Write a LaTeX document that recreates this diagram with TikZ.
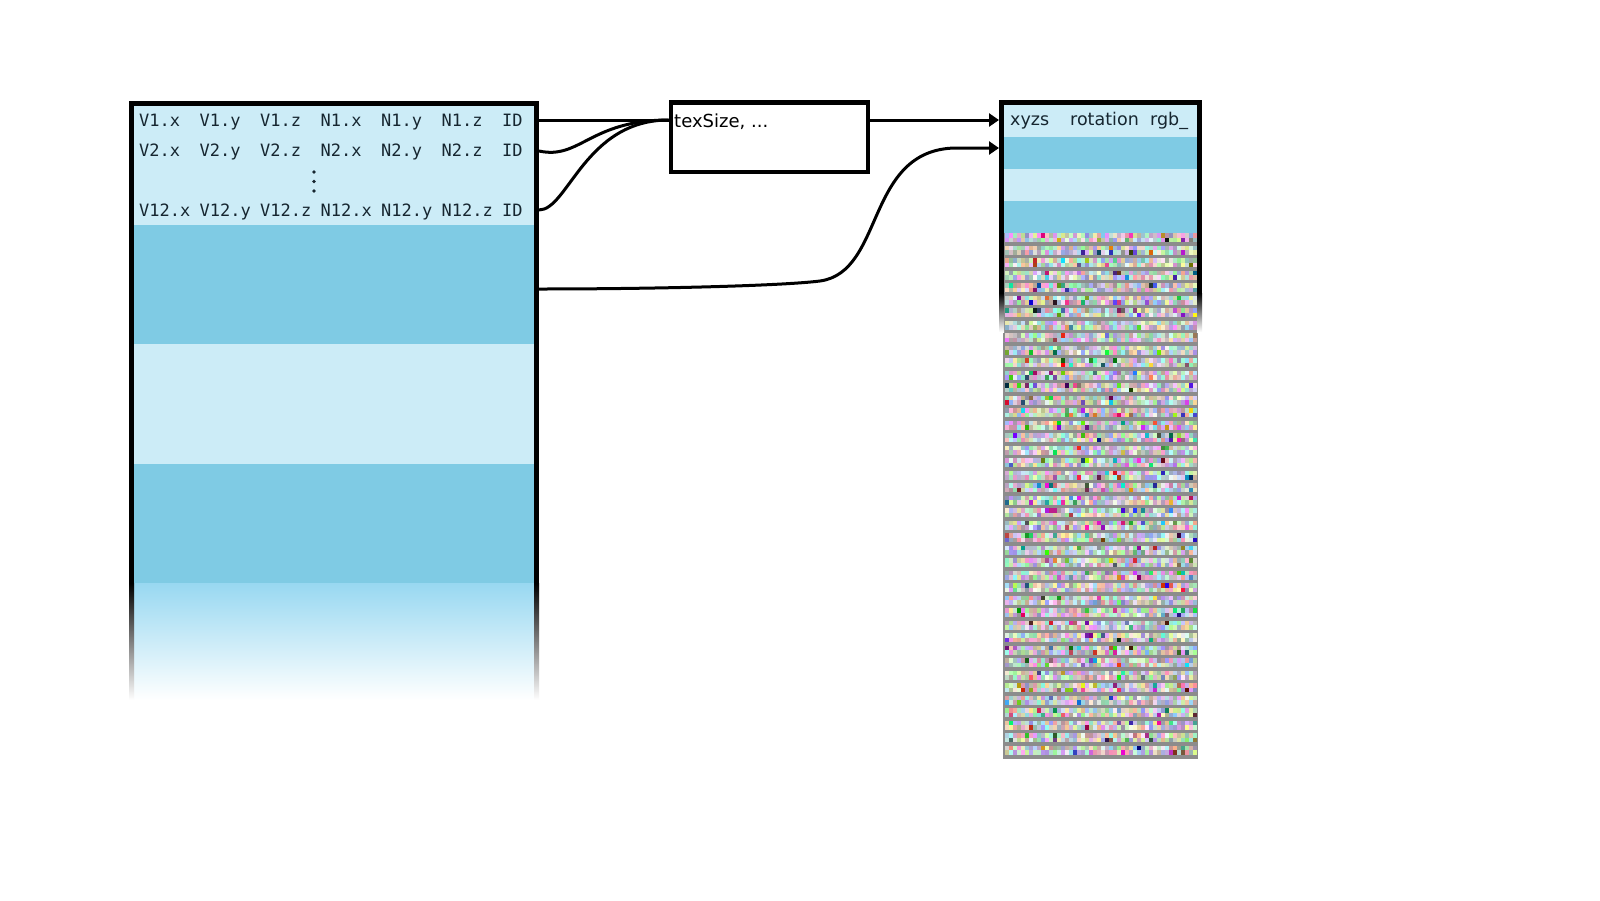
\documentclass[tikz,border=0pt]{standalone}
\usepackage{fontspec}
\setmainfont{DejaVu Sans}
\newfontfamily\monof{DejaVu Sans Mono}
\usetikzlibrary{arrows.meta}
\definecolor{lightb}{RGB}{204,236,247}
\definecolor{darkb}{RGB}{127,203,228}
\definecolor{fadeb}{RGB}{152,216,241}
\definecolor{txt}{RGB}{22,38,48}
\definecolor{stripe}{RGB}{140,140,140}
\begin{document}
\begin{tikzpicture}[x=1pt,y=-1pt,
  bord/.style={line width=5pt,line join=miter},
  conn/.style={line width=3pt},
  arr/.style={conn,-{Triangle[length=10pt,width=13pt]}},
  cell/.style={anchor=base west,inner sep=0pt,font=\monof\fontsize{17pt}{20pt}\selectfont,text=txt},
  hdr/.style={anchor=base west,inner sep=0pt,font=\fontsize{17.5pt}{21pt}\selectfont,text=txt}]
\useasboundingbox[fill=white] (0,0) rectangle (1600,900);

% ---------- left table ----------
\fill[lightb] (134,106) rectangle (534,225);
\fill[darkb]  (134,225) rectangle (534,344);
\fill[lightb] (134,344) rectangle (534,464);
\fill[darkb]  (134,464) rectangle (534,583);
\shade[top color=fadeb,bottom color=white] (134,583) rectangle (534,700);
\draw[bord] (131.5,583) -- (131.5,103.5) -- (536.5,103.5) -- (536.5,583);
\shade[top color=black,bottom color=white] (129,583) rectangle (134,700);
\shade[top color=black,bottom color=white] (534,583) rectangle (539,700);

\foreach \rw/\yy in {1/126,2/156,12/216}{
  \foreach \ctext [count=\kk from 0] in {V\rw.x,V\rw.y,V\rw.z,N\rw.x,N\rw.y,N\rw.z,ID}{
    \node[cell] (c\rw-\kk) at (139+60.5*\kk,\yy) {\ctext};
  }
}
\fill[txt] (314,172) circle (1.8);
\fill[txt] (314,181.5) circle (1.8);
\fill[txt] (314,191) circle (1.8);

\coordinate (t1) at (539,120);
\coordinate (t2) at (539,151);
\coordinate (t3) at (539,210);
\coordinate (t4) at (539,289);

% ---------- texSize box ----------
\node[draw,line width=4.5pt,minimum width=197pt,minimum height=69.5pt,inner sep=0pt] (tex) at (769.5,137.25) {};
\node[anchor=base west,inner sep=0pt,font=\fontsize{18pt}{21pt}\selectfont] (texl) at (674,127) {texSize, ...};

% ---------- right column ----------
\fill[lightb] (1004,105) rectangle (1197,137);
\fill[darkb]  (1004,137) rectangle (1197,169);
\fill[lightb] (1004,169) rectangle (1197,201);
\fill[darkb]  (1004,201) rectangle (1197,233);

\pgfmathsetseed{12345}
\fill[stripe] (1003,233) rectangle (1198,758.5);
\foreach \ii in {0,...,83}{
  \pgfmathsetmacro\ty{233+floor(\ii/2)*12.5+mod(\ii,2)*4.5}
  \foreach \jj in {0,...,47}{
    \pgfmathsetmacro\csat{rnd<0.12 ? 1 : 0.45}
    \pgfmathsetmacro\colr{1-\csat*rnd}
    \pgfmathsetmacro\colg{1-\csat*rnd}
    \pgfmathsetmacro\colb{1-\csat*rnd}
    \definecolor{cellc}{rgb}{\colr,\colg,\colb}
    \fill[cellc] (1005+4*\jj,\ty) rectangle ++(4,4.5);
  }
}

\draw[bord] (1001.5,293) -- (1001.5,102.5) -- (1199.5,102.5) -- (1199.5,293);
\shade[top color=black,bottom color=white] (999,293) rectangle (1004,332);
\shade[top color=black,bottom color=white] (1197,293) rectangle (1202,332);

\node[hdr] (hx) at (1010,125) {xyzs};
\node[hdr] (hr) at (1070,125) {rotation};
\node[hdr] (hg) at (1150,125) {rgb\_};

\coordinate (a1) at (999,120);
\coordinate (a2) at (999,148);

% ---------- connectors ----------
\draw[conn] (t1) -- (t1 -| tex.west);
\draw[conn] (t2) .. controls (580,160) and (590,120) .. (t1 -| tex.west);
\draw[conn] (t3) .. controls (568,210) and (585,120) .. (t1 -| tex.west);
\draw[arr] (a1 -| tex.east) -- (a1);
\draw[arr] (t4) .. controls (650,289) and (780,286) .. (820,281)
  .. controls (885,272) and (865,150) .. (955,148) -- (a2);
\end{tikzpicture}
\end{document}
